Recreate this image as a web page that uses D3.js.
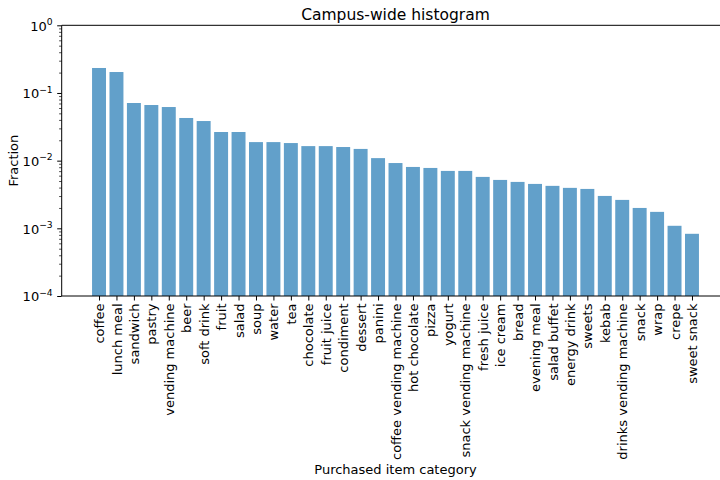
<!DOCTYPE html>
<html>
<head>
<meta charset="utf-8">
<script src="https://cdn.jsdelivr.net/npm/d3@7"></script>
<style>
  html, body { margin: 0; padding: 0; background: #fff; }
  svg { display: block; }
  svg text { font-family: "DejaVu Sans", sans-serif; }
</style>
</head>
<body>
<svg id="chart" width="720" height="480"></svg>
<script>
const categories = ["coffee","lunch meal","sandwich","pastry","vending machine","beer","soft drink","fruit","salad","soup","water","tea","chocolate","fruit juice","condiment","dessert","panini","coffee vending machine","hot chocolate","pizza","yogurt","snack vending machine","fresh juice","ice cream","bread","evening meal","salad buffet","energy drink","sweets","kebab","drinks vending machine","snack","wrap","crepe","sweet snack"];
const fractions = [0.234,0.204,0.0711,0.0664,0.0620,0.0427,0.0385,0.0265,0.0265,0.0188,0.0188,0.0182,0.0164,0.0164,0.0159,0.0149,0.0109,0.00922,0.00807,0.00780,0.00705,0.00705,0.00575,0.00519,0.00485,0.00453,0.00424,0.00396,0.00382,0.00301,0.00263,0.00200,0.00175,0.00109,0.00083];
const yTickValues = [1e-4, 1e-3, 1e-2, 1e-1, 1];
const yTickExponents = ["−4", "−3", "−2", "−1", "0"];

(function () {
const FONT = '"DejaVu Sans", sans-serif';
const FS = 13;
const svg = d3.select("#chart");
const mLeft = 61.7, mRight = 729.3, mTop = 25.3, mBottom = 296;
const n = categories.length;
const barW = 0.8;
const pad = (n - 1 + barW) * 0.05;
const x = d3.scaleLinear().domain([-barW/2 - pad, n - 1 + barW/2 + pad]).range([mLeft, mRight]);
const y = d3.scaleLog().domain([1e-4, 1]).range([mBottom, mTop]);

// bars
svg.append("g").selectAll("rect").data(fractions).join("rect")
  .attr("x", (d, i) => x(i - barW/2))
  .attr("width", (d, i) => x(i + barW/2) - x(i - barW/2))
  .attr("y", d => y(d))
  .attr("height", d => mBottom - y(d))
  .attr("fill", "#1f77b4")
  .attr("fill-opacity", 0.7);

// minor ticks
const minor = [];
for (let e = -4; e < 0; e++) for (let m = 2; m <= 9; m++) minor.push(m * Math.pow(10, e));
svg.append("g").attr("transform", `translate(${mLeft},0)`)
  .call(d3.axisLeft(y).tickValues(minor).tickSize(2.6).tickFormat(""))
  .call(g => g.select(".domain").remove())
  .call(g => g.selectAll("line").attr("stroke", "#000").attr("stroke-width", 0.7));

// major y ticks
const yAxis = svg.append("g").attr("transform", `translate(${mLeft},0)`)
  .call(d3.axisLeft(y).tickValues(yTickValues).tickSize(4.5).tickPadding(4.5).tickFormat(""));
yAxis.attr("font-family", FONT);
yAxis.select(".domain").remove();
yAxis.selectAll("line").attr("stroke", "#000").attr("stroke-width", 1);
yAxis.selectAll(".tick").each(function(d, i) {
  const t = d3.select(this).append("text")
    .attr("x", -9).attr("y", 4.7)
    .attr("text-anchor", "end").attr("fill", "#000")
    .style("font-family", FONT)
    .style("font-size", FS + "px");
  t.append("tspan").text("10");
  t.append("tspan").attr("dy", -5.5).style("font-size", "9.2px").text(yTickExponents[i]);
});

// x axis
const xAxis = svg.append("g").attr("transform", `translate(0,${mBottom})`)
  .call(d3.axisBottom(x).tickValues(d3.range(n)).tickSize(4.5).tickFormat(""));
xAxis.attr("font-family", FONT);
xAxis.select(".domain").remove();
xAxis.selectAll("line").attr("stroke", "#000").attr("stroke-width", 1);
xAxis.selectAll(".tick").append("text")
  .attr("transform", "translate(0,7.5) rotate(-90)")
  .attr("text-anchor", "end")
  .attr("dy", "0.35em")
  .attr("fill", "#000")
  .style("font-family", FONT)
  .style("font-size", FS + "px")
  .text((d, i) => categories[i]);

// spines
const spine = (x1, y1, x2, y2) => svg.append("line")
  .attr("x1", x1).attr("y1", y1).attr("x2", x2).attr("y2", y2)
  .attr("stroke", "#000").attr("stroke-width", 1);
spine(mLeft, mTop, mLeft, mBottom);
spine(mLeft, mBottom, mRight, mBottom);
spine(mLeft, mTop, mRight, mTop);
spine(mRight, mTop, mRight, mBottom);

// labels
svg.append("text").attr("x", (mLeft + mRight) / 2).attr("y", 19.5)
  .attr("text-anchor", "middle").attr("fill", "#000").style("font-size", "15.5px")
  .text("Campus-wide histogram");
svg.append("text").attr("x", (mLeft + mRight) / 2).attr("y", 473.5)
  .attr("text-anchor", "middle").attr("fill", "#000").style("font-size", FS + "px")
  .text("Purchased item category");
svg.append("text").attr("transform", `translate(17.5,${(mTop + mBottom) / 2}) rotate(-90)`)
  .attr("text-anchor", "middle").attr("fill", "#000").style("font-size", FS + "px")
  .text("Fraction");
})();
</script>
</body>
</html>
